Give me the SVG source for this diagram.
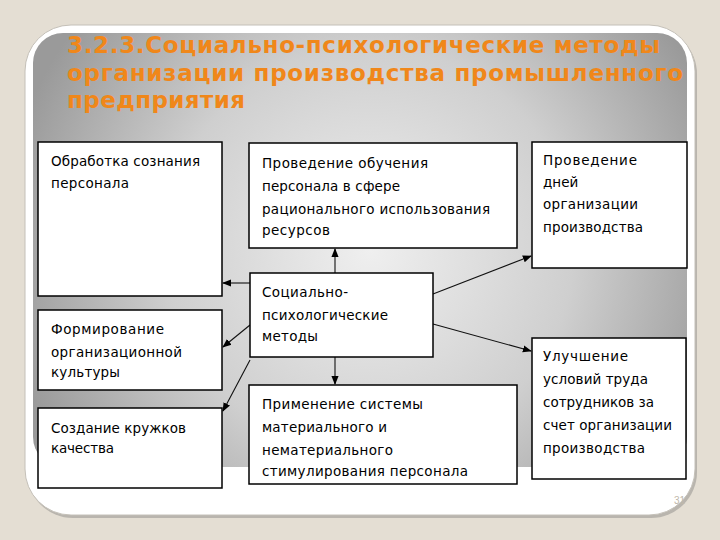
<svg xmlns="http://www.w3.org/2000/svg" width="720" height="540" viewBox="0 0 720 540">
<defs>
<radialGradient id="bg" gradientUnits="userSpaceOnUse" cx="370" cy="250" r="370">
<stop offset="0" stop-color="#efefef"/>
<stop offset="0.55" stop-color="#cfcfcf"/>
<stop offset="1" stop-color="#9a9a9a"/>
</radialGradient>
<marker id="ah" viewBox="0 0 10 10" refX="9" refY="5" markerWidth="9" markerHeight="9" markerUnits="userSpaceOnUse" orient="auto">
<path d="M0,1 L10,5 L0,9 Z" fill="#000"/>
</marker>
<style>
.box{fill:#fff;stroke:#000;stroke-width:1.5}
.t{font-family:"DejaVu Sans","Liberation Sans",sans-serif;font-size:13.5px;fill:#000}
.title{font-family:"DejaVu Sans","Liberation Sans",sans-serif;font-size:23px;font-weight:bold;fill:#f0871a}
.c{stroke:#111;stroke-width:1.1;fill:none;marker-end:url(#ah)}
</style>
</defs>
<rect width="720" height="540" fill="#e4ded3"/>
<rect x="27" y="28" width="670" height="490" rx="46" fill="#b9b5ae"/>
<rect x="25" y="25" width="670" height="490" rx="46" fill="#fff" stroke="#c4c0b8" stroke-width="1"/>
<rect x="33" y="33" width="654" height="434" rx="30" fill="url(#bg)"/>
<g id="title">
<text class="title" x="67" y="53" textLength="593" lengthAdjust="spacing">3.2.3.Социально-психологические методы</text>
<text class="title" x="67" y="81" textLength="616" lengthAdjust="spacing">организации производства промышленного</text>
<text class="title" x="67" y="108" textLength="178" lengthAdjust="spacing">предприятия</text>
</g>
<g id="connectors">
<line class="c" x1="335" y1="273" x2="335" y2="249"/>
<line class="c" x1="250" y1="283" x2="223" y2="283"/>
<line class="c" x1="250" y1="325" x2="223" y2="347"/>
<line class="c" x1="250" y1="360" x2="223" y2="411"/>
<line class="c" x1="335" y1="357" x2="335" y2="384"/>
<line class="c" x1="433" y1="294" x2="531" y2="256"/>
<line class="c" x1="433" y1="324" x2="531" y2="351"/>
</g>
<g id="n1">
<rect class="box" x="38" y="142" width="184" height="154"/>
<text class="t" x="51" y="166" textLength="149" lengthAdjust="spacing">Обработка сознания</text>
<text class="t" x="51" y="188" textLength="78" lengthAdjust="spacing">персонала</text>
</g>
<g id="n2">
<rect class="box" x="249" y="143" width="268" height="105"/>
<text class="t" x="262" y="168" textLength="166" lengthAdjust="spacing">Проведение обучения</text>
<text class="t" x="262" y="191" textLength="138" lengthAdjust="spacing">персонала в сфере</text>
<text class="t" x="262" y="214" textLength="228" lengthAdjust="spacing">рационального использования</text>
<text class="t" x="262" y="235" textLength="68" lengthAdjust="spacing">ресурсов</text>
</g>
<g id="n3">
<rect class="box" x="532" y="142" width="155" height="126"/>
<text class="t" x="543" y="165" textLength="94" lengthAdjust="spacing">Проведение</text>
<text class="t" x="543" y="187">дней</text>
<text class="t" x="543" y="209" textLength="95" lengthAdjust="spacing">организации</text>
<text class="t" x="543" y="232" textLength="100" lengthAdjust="spacing">производства</text>
</g>
<g id="center">
<rect class="box" x="250" y="273" width="183" height="84"/>
<text class="t" x="262" y="297" textLength="86" lengthAdjust="spacing">Социально-</text>
<text class="t" x="262" y="320" textLength="126" lengthAdjust="spacing">психологические</text>
<text class="t" x="262" y="341" textLength="56" lengthAdjust="spacing">методы</text>
</g>
<g id="n5">
<rect class="box" x="38" y="310" width="184" height="80"/>
<text class="t" x="51" y="334" textLength="113" lengthAdjust="spacing">Формирование</text>
<text class="t" x="51" y="357" textLength="131" lengthAdjust="spacing">организационной</text>
<text class="t" x="51" y="377" textLength="69" lengthAdjust="spacing">культуры</text>
</g>
<g id="n6">
<rect class="box" x="38" y="408" width="184" height="80"/>
<text class="t" x="51" y="433" textLength="135" lengthAdjust="spacing">Создание кружков</text>
<text class="t" x="51" y="453" textLength="63" lengthAdjust="spacing">качества</text>
</g>
<g id="n7">
<rect class="box" x="249" y="385" width="268" height="99"/>
<text class="t" x="262" y="409" textLength="161" lengthAdjust="spacing">Применение системы</text>
<text class="t" x="262" y="432" textLength="125" lengthAdjust="spacing">материального и</text>
<text class="t" x="262" y="455" textLength="131" lengthAdjust="spacing">нематериального</text>
<text class="t" x="262" y="476" textLength="206" lengthAdjust="spacing">стимулирования персонала</text>
</g>
<g id="n8">
<rect class="box" x="532" y="338" width="154" height="141"/>
<text class="t" x="543" y="361" textLength="85" lengthAdjust="spacing">Улучшение</text>
<text class="t" x="543" y="384" textLength="105" lengthAdjust="spacing">условий труда</text>
<text class="t" x="543" y="407" textLength="111" lengthAdjust="spacing">сотрудников за</text>
<text class="t" x="543" y="430" textLength="129" lengthAdjust="spacing">счет организации</text>
<text class="t" x="543" y="453" textLength="102" lengthAdjust="spacing">производства</text>
</g>
<text x="674" y="504" style="font-family:'Liberation Sans',sans-serif;font-size:10px;fill:#c0b8aa">31</text>
</svg>
